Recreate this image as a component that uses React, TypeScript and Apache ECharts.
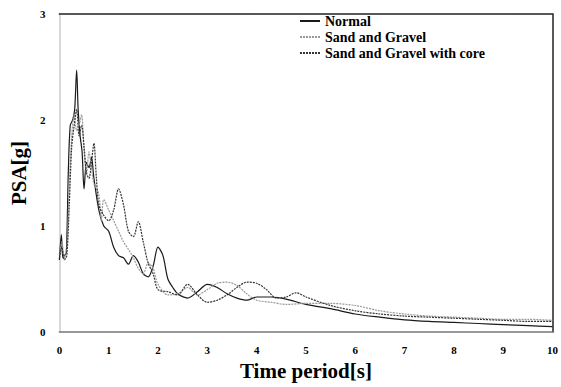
import React, { useEffect, useRef } from "react";
import * as echarts from "echarts";

const seriesNames = ["Normal", "Sand and Gravel", "Sand and Gravel with core"];
const xTicks = [0, 1, 2, 3, 4, 5, 6, 7, 8, 9, 10];
const yTicks = [0, 1, 2, 3];

const normal: [number, number][] = [
  [0, 0.68], [0.04, 0.92], [0.07, 0.7], [0.1, 0.72], [0.14, 0.75], [0.18, 1.5], [0.22, 1.95],
  [0.27, 2.0], [0.31, 2.1], [0.35, 2.47], [0.38, 2.1], [0.42, 1.85], [0.46, 1.7], [0.5, 1.35],
  [0.55, 1.6], [0.6, 1.55], [0.65, 1.65], [0.7, 1.45], [0.8, 1.15], [0.9, 1.0], [1.0, 0.95],
  [1.1, 0.8], [1.2, 0.72], [1.3, 0.7], [1.4, 0.64], [1.5, 0.72], [1.6, 0.66], [1.7, 0.55],
  [1.8, 0.52], [1.9, 0.62], [2.0, 0.8], [2.1, 0.72], [2.2, 0.5], [2.3, 0.42], [2.4, 0.36],
  [2.6, 0.32], [2.8, 0.38], [3.0, 0.45], [3.2, 0.42], [3.4, 0.36], [3.6, 0.32], [3.8, 0.3],
  [4.0, 0.33], [4.3, 0.33], [4.6, 0.31], [5.0, 0.26], [5.5, 0.22], [6.0, 0.17], [6.5, 0.14],
  [7.0, 0.115], [7.5, 0.1], [8.0, 0.09], [8.5, 0.08], [9.0, 0.07], [9.5, 0.06], [10, 0.05],
];

const sandGravel: [number, number][] = [
  [0, 0.7], [0.05, 0.85], [0.1, 0.7], [0.15, 0.8], [0.2, 1.4], [0.25, 1.85], [0.3, 2.05],
  [0.35, 1.9], [0.4, 1.95], [0.45, 2.05], [0.5, 1.7], [0.55, 1.5], [0.6, 1.7], [0.65, 1.55],
  [0.7, 1.4], [0.8, 1.3], [0.85, 1.05], [0.9, 1.25], [1.0, 1.15], [1.1, 1.05], [1.2, 0.95],
  [1.3, 0.85], [1.4, 0.78], [1.5, 0.7], [1.6, 0.6], [1.7, 0.55], [1.8, 0.65], [1.9, 0.6],
  [2.0, 0.45], [2.2, 0.35], [2.4, 0.36], [2.6, 0.42], [2.8, 0.35], [3.0, 0.4], [3.2, 0.46],
  [3.4, 0.47], [3.6, 0.44], [3.8, 0.36], [4.0, 0.3], [4.3, 0.28], [4.6, 0.26], [5.0, 0.27],
  [5.5, 0.27], [6.0, 0.25], [6.5, 0.2], [7.0, 0.17], [7.5, 0.15], [8.0, 0.14], [8.5, 0.13],
  [9.0, 0.12], [9.5, 0.12], [10, 0.11],
];

const sandGravelCore: [number, number][] = [
  [0, 0.7], [0.05, 0.8], [0.1, 0.68], [0.15, 0.72], [0.2, 1.2], [0.25, 1.75], [0.3, 1.95],
  [0.35, 2.1], [0.4, 1.85], [0.45, 1.95], [0.5, 1.75], [0.55, 1.5], [0.6, 1.45], [0.65, 1.6],
  [0.7, 1.78], [0.75, 1.45], [0.8, 1.2], [0.9, 1.1], [1.0, 1.05], [1.1, 1.15], [1.2, 1.35],
  [1.3, 1.2], [1.4, 0.95], [1.5, 0.9], [1.6, 1.04], [1.7, 0.85], [1.8, 0.65], [1.9, 0.55],
  [2.0, 0.4], [2.2, 0.38], [2.4, 0.35], [2.6, 0.45], [2.8, 0.35], [3.0, 0.28], [3.2, 0.3],
  [3.4, 0.35], [3.6, 0.42], [3.8, 0.47], [4.0, 0.46], [4.2, 0.4], [4.4, 0.32], [4.6, 0.33],
  [4.8, 0.37], [5.0, 0.33], [5.5, 0.25], [6.0, 0.2], [6.5, 0.17], [7.0, 0.15], [7.5, 0.14],
  [8.0, 0.13], [8.5, 0.12], [9.0, 0.11], [9.5, 0.1], [10, 0.1],
];

const FONT = "'Liberation Serif', 'Times New Roman', serif";

export default function App() {
  const ref = useRef<HTMLDivElement>(null);
  useEffect(() => {
    if (!ref.current) return;
    const chart = echarts.init(ref.current, undefined, { renderer: "svg" });
    const labelStyle = { color: "#000", fontFamily: FONT, fontWeight: "bold" as const, fontSize: 11 };
    const lineSeries = (name: string, data: [number, number][], color: string, type: any) => ({
      name,
      type: "line",
      data,
      smooth: 0.3,
      symbol: "none",
      showSymbol: false,
      lineStyle: { color, width: 1.2, type },
      itemStyle: { color },
    });
    chart.setOption({
      animation: false,
      backgroundColor: "#fff",
      grid: { left: 59, right: 7, top: 14, bottom: 55, containLabel: false },
      legend: {
        orient: "vertical",
        left: 294,
        top: 9,
        itemWidth: 20,
        itemHeight: 2,
        itemGap: 2,
        itemStyle: { opacity: 0 },
        data: seriesNames,
        textStyle: { color: "#000", fontFamily: FONT, fontWeight: "bold", fontSize: 14 },
      },
      xAxis: [
        {
          type: "value",
          min: xTicks[0],
          max: xTicks[xTicks.length - 1],
          interval: 1,
          name: "Time period[s]",
          nameLocation: "middle",
          nameGap: 28,
          nameTextStyle: { color: "#000", fontFamily: FONT, fontWeight: "bold", fontSize: 21 },
          axisLine: { show: true, lineStyle: { color: "#777", width: 1.5 } },
          axisTick: { show: false },
          splitLine: { show: false },
          axisLabel: { ...labelStyle, margin: 12 },
        },
        {
          type: "value",
          position: "top",
          min: 0,
          max: 10,
          axisLine: { show: true, onZero: false, lineStyle: { color: "#222", width: 1.5 } },
          axisTick: { show: false },
          axisLabel: { show: false },
          splitLine: { show: false },
        },
      ],
      yAxis: [
        {
          type: "value",
          min: yTicks[0],
          max: yTicks[yTicks.length - 1],
          interval: 1,
          name: "PSA[g]",
          nameLocation: "middle",
          nameGap: 26,
          nameTextStyle: { color: "#000", fontFamily: FONT, fontWeight: "bold", fontSize: 21 },
          axisLine: { show: true, lineStyle: { color: "#ccc", width: 1.5 } },
          axisTick: { show: false },
          splitLine: { show: false },
          axisLabel: { ...labelStyle, margin: 14 },
        },
        {
          type: "value",
          position: "right",
          min: 0,
          max: 3,
          axisLine: { show: true, onZero: false, lineStyle: { color: "#222", width: 1.5 } },
          axisTick: { show: false },
          axisLabel: { show: false },
          splitLine: { show: false },
        },
      ],
      series: [
        lineSeries(seriesNames[0], normal, "#1a1a1a", "solid"),
        lineSeries(seriesNames[1], sandGravel, "#999", [2, 1]),
        lineSeries(seriesNames[2], sandGravelCore, "#333", [2, 1]),
      ],
    });
    return () => chart.dispose();
  }, []);
  return (
    <div
      ref={ref}
      style={{ position: "fixed", left: 0, top: 0, width: 561, height: 387 }}
    />
  );
}
